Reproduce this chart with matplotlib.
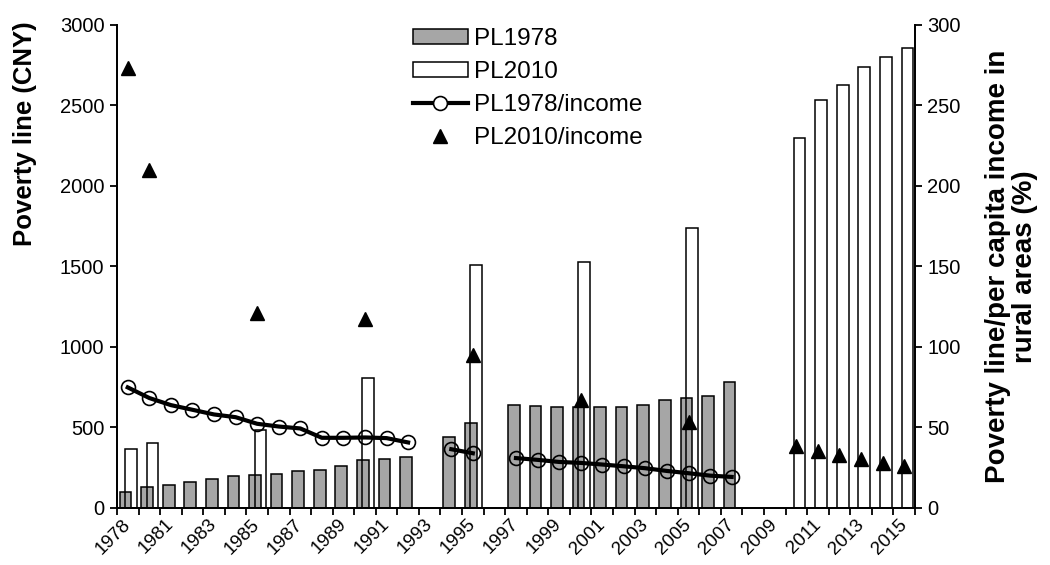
import numpy as np
import matplotlib
matplotlib.use('Agg')
import matplotlib.pyplot as plt
from matplotlib.patches import Patch
from matplotlib.lines import Line2D

plt.rcParams['font.family'] = ['Liberation Sans', 'DejaVu Sans']

# --------------- #
# Chart data      #
# --------------- #
years = [1978] + list(range(1980, 2016))

nan = np.nan
# poverty line, 1978 standard (CNY)
pl1978 = [100, 130, 142, 164, 179, 200, 206, 213, 227, 236, 259, 300, 304, 317, nan,
          440, 530, nan, 640, 635, 625, 625, 630, 627, 637, 668, 683, 693, 785,
          nan, nan, nan, nan, nan, nan, nan, nan]
# poverty line, 2010 standard (CNY)
pl2010 = [366, 403, nan, nan, nan, nan, 482, nan, nan, nan, nan, 807, nan, nan, nan,
          nan, 1511, nan, nan, nan, nan, 1528, nan, nan, nan, nan, 1742, nan, nan,
          nan, nan, 2300, 2536, 2625, 2736, 2800, 2855]
# poverty line / per capita rural income (%)
pl1978_ratio = [74.9, 68.3, 63.9, 61.0, 58.1, 56.4, 52.3, 50.6, 49.4, 43.6, 43.6, 43.8, 43.4, 40.7, nan,
                36.5, 34.0, nan, 31.0, 29.9, 28.6, 28.0, 27.0, 25.9, 24.7, 23.0, 21.6, 20.1, 19.3,
                nan, nan, nan, nan, nan, nan, nan, nan]
pl2010_ratio = [273, 210, nan, nan, nan, nan, 121, nan, nan, nan, nan, 117.4, nan, nan, nan,
                nan, 95.2, nan, nan, nan, nan, 67.2, nan, nan, nan, nan, 53.1, nan, nan,
                nan, nan, 38.2, 35.7, 33.0, 30.3, 28.2, 26.3]

tick_size = 14.5
legend_font = 17.5
grey = '#a6a6a6'

x = np.arange(len(years))
bar_w = 0.54

fig = plt.figure(figsize=(10.5, 5.65), dpi=100)
ax1 = fig.add_axes([0.1114, 0.1009, 0.76, 0.8549])
ax2 = ax1.twinx()

# bars (left axis)
ax1.bar(x - 0.1, pl1978, width=bar_w, color=grey, edgecolor='k', linewidth=1.1, zorder=2)
ax1.bar(x + 0.15, pl2010, width=bar_w, facecolor='none', edgecolor='k', linewidth=1.1, zorder=3)

# ratios (right axis)
ax2.plot(x, pl1978_ratio, color='k', lw=3, marker='o', ms=10, mfc='none', mec='k', mew=1.2)
ax2.plot(x, pl2010_ratio, ls='none', marker='^', ms=10, color='k')

ax1.set_xlim(-0.5, len(years) - 0.5)
ax1.set_ylim(0, 3000)
ax2.set_ylim(0, 300)
ax1.set_yticks(np.arange(0, 3001, 500))
ax2.set_yticks(np.arange(0, 301, 50))

# tick marks at category boundaries, labels every other category
ax1.set_xticks(np.arange(-0.5, len(years), 1.0))
ax1.set_xticklabels([])
ax1.set_xticks(x[::2], minor=True)
ax1.set_xticklabels([str(years[i]) for i in x[::2]], minor=True, rotation=45,
                    ha='right', va='center', rotation_mode='anchor', fontsize=13.5)
ax1.tick_params(axis='x', which='major', length=5, width=1.3, direction='out')
ax1.tick_params(axis='x', which='minor', length=0, pad=10)
ax1.tick_params(axis='y', labelsize=tick_size, length=5, width=1.3, direction='out', pad=4)
ax2.tick_params(axis='y', labelsize=tick_size, length=5, width=1.3, direction='out', pad=4)

for a in (ax1, ax2):
    a.spines['top'].set_visible(False)
    for s in ('left', 'right', 'bottom'):
        a.spines[s].set_linewidth(1.3)

ax1.set_ylabel('Poverty line (CNY)', fontsize=18.5, fontweight='bold')
ax1.yaxis.set_label_coords(-0.1, 0.775)
ax2.set_ylabel('Poverty line/per capita income in\nrural areas (%)', fontsize=20,
               fontweight='bold', linespacing=1.05)
ax2.yaxis.set_label_coords(1.088, 0.5)

# legend
handles = [Patch(facecolor=grey, edgecolor='k', linewidth=1.1),
           Patch(facecolor='white', edgecolor='k', linewidth=1.1),
           Line2D([], [], color='k', lw=3, marker='o', ms=10, mfc='white', mec='k', mew=1.2),
           Line2D([], [], ls='none', marker='^', ms=10, color='k')]
labels = ['PL1978', 'PL2010', 'PL1978/income', 'PL2010/income']
fig.legend(handles, labels, loc='upper left', bbox_to_anchor=(0.3933, 0.95), fontsize=legend_font,
           frameon=False, handlelength=2.25, handleheight=0.55, handletextpad=0.25,
           labelspacing=0.45, borderaxespad=0, borderpad=0)

plt.savefig('out.png', dpi=100)
plt.close()
